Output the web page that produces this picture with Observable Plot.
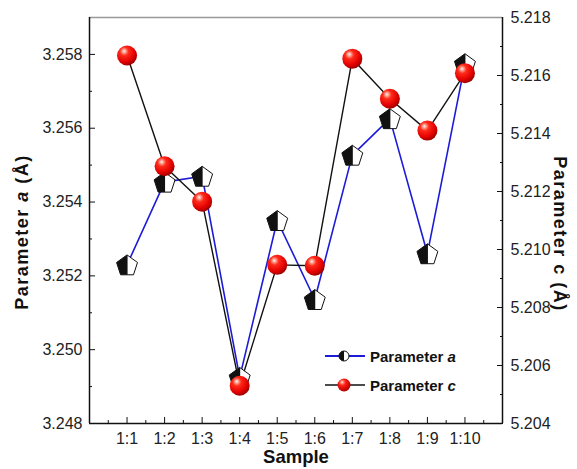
<!DOCTYPE html>
<html><head><meta charset="utf-8">
<script src="https://cdn.jsdelivr.net/npm/d3@7"></script>
<script src="https://cdn.jsdelivr.net/npm/@observablehq/plot@0.6"></script>
<style>body{margin:0;background:#fff;} #chart svg{display:block;}</style>
</head><body><div id="chart"></div>
<script>
// ---- data ----
const samples = ["1:1","1:2","1:3","1:4","1:5","1:6","1:7","1:8","1:9","1:10"];
const paramA = [3.2523, 3.25454, 3.2547, 3.24925, 3.2535, 3.25136, 3.25527, 3.25626, 3.2526, 3.25775];
const paramC = [5.21669, 5.21287, 5.21165, 5.2053, 5.20947, 5.20944, 5.21658, 5.2152, 5.2141, 5.21608];
const aTicks = [3.248, 3.250, 3.252, 3.254, 3.256, 3.258];
const cTicks = [5.204, 5.206, 5.208, 5.210, 5.212, 5.214, 5.216, 5.218];
const aDomain = [3.248, 3.259];
const cDomain = [5.204, 5.218];

const cToA = c => aDomain[0] + (c - cDomain[0]) * (aDomain[1] - aDomain[0]) / (cDomain[1] - cDomain[0]);
const aToC = a => cDomain[0] + (a - aDomain[0]) * (cDomain[1] - cDomain[0]) / (aDomain[1] - aDomain[0]);

const dataA = samples.map((s, i) => ({i: i + 1, v: paramA[i]}));
const dataC = samples.map((s, i) => ({i: i + 1, v: cToA(paramC[i])}));

const aMinor = d3.range(3.249, 3.2591, 0.002);
const cMinor = d3.range(5.205, 5.2181, 0.002).map(cToA);
const xMinor = d3.range(0.5, 11, 1);

// ---- custom symbols ----
function pentPts(R) {
  return d3.range(5).map(k => {
    const t = -Math.PI / 2 + k * 2 * Math.PI / 5;
    return [R * Math.cos(t), R * Math.sin(t) + R * 0.1];
  });
}
const pentagon = {draw(ctx, size) {
  const R = Math.sqrt(size / Math.PI) * 1.1, p = pentPts(R);
  ctx.moveTo(p[0][0], p[0][1]);
  for (let k = 1; k < 5; k++) ctx.lineTo(p[k][0], p[k][1]);
  ctx.closePath();
}};
const pentLeft = {draw(ctx, size) {
  const R = Math.sqrt(size / Math.PI) * 1.1, p = pentPts(R);
  ctx.moveTo(p[0][0], p[0][1]);
  ctx.lineTo(p[4][0], p[4][1]);
  ctx.lineTo(p[3][0], p[3][1]);
  ctx.lineTo(0.5, p[3][1]);
  ctx.lineTo(0.5, p[0][1]);
  ctx.closePath();
}};

const blue = "#1c1cd8";
const font = "'Liberation Sans', Arial, sans-serif";

const chart = Plot.plot({
  width: 577, height: 469,
  marginLeft: 89, marginRight: 75, marginTop: 17, marginBottom: 46,
  x: {domain: [0, 11], label: null},
  y: {domain: aDomain, label: null},
  style: {fontFamily: font, fontSize: "16px", color: "#222", background: "white"},
  marks: [
    Plot.axisX(xMinor, {tickSize: -3, tickFormat: () => "", label: null, stroke: "#111"}),
    Plot.axisX(d3.range(1, 11), {tickSize: -6, tickPadding: 15, tickFormat: d => samples[d - 1], label: null, stroke: "#111", fill: "#222"}),
    Plot.axisY(aMinor, {tickSize: -3, tickFormat: () => "", label: null, stroke: "#111"}),
    Plot.axisY(aTicks, {tickSize: -6, tickPadding: 13, tickFormat: d => d.toFixed(3), label: null, stroke: "#111", fill: "#222"}),
    Plot.axisY(cMinor, {anchor: "right", tickSize: -3, tickFormat: () => "", label: null, stroke: "#111"}),
    Plot.axisY(cTicks.map(cToA), {anchor: "right", tickSize: -6, tickPadding: 14, tickFormat: d => aToC(d).toFixed(3), label: null, stroke: "#111", fill: "#222"}),
    Plot.ruleY([aDomain[1]], {stroke: "#999", strokeWidth: 1.5}),
    Plot.ruleY([aDomain[0]], {stroke: "#111", strokeWidth: 1.5}),
    Plot.ruleX([0, 11], {stroke: "#111", strokeWidth: 1.5}),
    Plot.line(dataA, {x: "i", y: "v", stroke: blue, strokeWidth: 1.6}),
    Plot.line(dataC, {x: "i", y: "v", stroke: "#111", strokeWidth: 1.4}),
    Plot.dot(dataA, {x: "i", y: "v", r: 10, symbol: pentagon, fill: "white", stroke: "#111", strokeWidth: 1}),
    Plot.dot(dataA, {x: "i", y: "v", r: 10, symbol: pentLeft, fill: "#111", stroke: "none"}),
    Plot.dot(dataC, {x: "i", y: "v", r: 10, fill: "url(#ball)", stroke: "none"})
  ]
});
document.getElementById("chart").appendChild(chart);

const svg = d3.select(chart);
const defs = svg.insert("defs", ":first-child");
const g = defs.append("radialGradient").attr("id", "ball").attr("cx", "38%").attr("cy", "33%").attr("r", "68%").attr("fx", "35%").attr("fy", "28%");
[["0%", "#fff4f0"], ["14%", "#ff9a8a"], ["32%", "#ff2a1a"], ["75%", "#e20000"], ["100%", "#9c0000"]].forEach(([o, c]) => g.append("stop").attr("offset", o).attr("stop-color", c));
const g2 = defs.append("radialGradient").attr("id", "ballS").attr("cx", "38%").attr("cy", "33%").attr("r", "68%").attr("fx", "35%").attr("fy", "28%");
[["0%", "#fff4f0"], ["18%", "#ff7a6a"], ["40%", "#ff1a10"], ["100%", "#b00000"]].forEach(([o, c]) => g2.append("stop").attr("offset", o).attr("stop-color", c));

// axis titles
const titleStyle = t => t.attr("font-family", font).attr("font-weight", "bold").attr("font-size", 18).attr("fill", "#111").attr("text-anchor", "middle");
titleStyle(svg.append("text")).attr("x", 296).attr("y", 463).attr("font-size", 18.5).text("Sample");
const lt = titleStyle(svg.append("text")).attr("transform", "translate(28,232) rotate(-90)").attr("letter-spacing", 1.5);
lt.append("tspan").text("Parameter ");
lt.append("tspan").attr("font-style", "italic").text("a");
lt.append("tspan").text(" (Å)");
const rt = titleStyle(svg.append("text")).attr("transform", "translate(554,234) rotate(90)").attr("letter-spacing", 1.5);
rt.append("tspan").text("Parameter ");
rt.append("tspan").text("c");
rt.append("tspan").text(" (Å)");

// legend
const lg = svg.append("g").attr("font-family", font).attr("font-weight", "bold").attr("font-size", 15).attr("fill", "#111").attr("text-anchor", "start");
const r1 = 356, r2 = 385;
lg.append("line").attr("x1", 325).attr("x2", 365).attr("y1", r1).attr("y2", r1).attr("stroke", blue).attr("stroke-width", 2);
lg.append("circle").attr("cx", 344).attr("cy", r1).attr("r", 5).attr("fill", "white").attr("stroke", "#111");
lg.append("path").attr("d", `M344,${r1 - 5}A5,5 0 0 0 344,${r1 + 5}Z`).attr("fill", "#111");
lg.append("line").attr("x1", 325).attr("x2", 365).attr("y1", r2).attr("y2", r2).attr("stroke", "#111").attr("stroke-width", 1.5);
lg.append("circle").attr("cx", 344).attr("cy", r2).attr("r", 6.5).attr("fill", "url(#ballS)");
const t1 = lg.append("text").attr("x", 370).attr("y", r1 + 5.5);
t1.append("tspan").text("Parameter ");
t1.append("tspan").attr("font-style", "italic").text("a");
const t2 = lg.append("text").attr("x", 370).attr("y", r2 + 5.5);
t2.append("tspan").text("Parameter ");
t2.append("tspan").attr("font-style", "italic").text("c");
</script>
</body></html>
